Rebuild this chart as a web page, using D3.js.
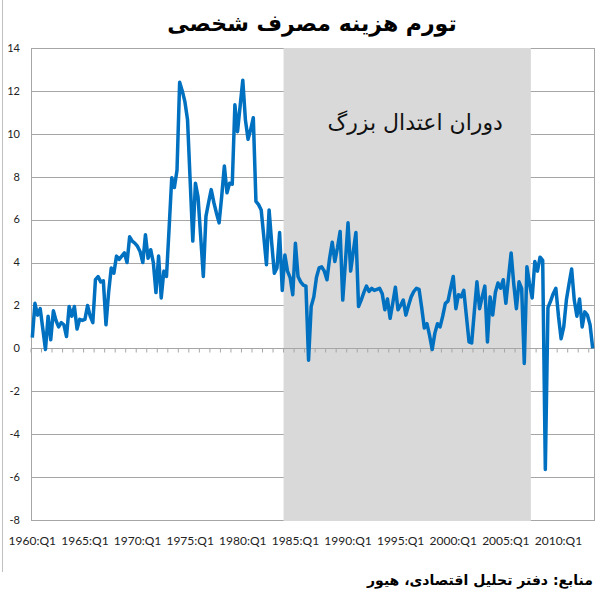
<!DOCTYPE html>
<html>
<head>
<meta charset="utf-8">
<script src="https://cdn.jsdelivr.net/npm/d3@7"></script>
<style>
  body { margin: 0; background: #fff; }
  svg { display: block; }
</style>
</head>
<body>
<svg id="chart" width="597" height="600"></svg>
<script>
// quarterly inflation, personal consumption expenditure (percent, annualised)
var startYear = 1960;
var values = [
  0.5, 2.1, 1.55, 1.85, 0.9, -0.05, 1.5, 0.4, 1.75, 1.3,
  1.0, 1.2, 1.1, 0.55, 1.95, 1.5, 1.95, 0.9, 1.35, 1.3,
  1.35, 2.0, 1.5, 1.2, 3.2, 3.35, 3.1, 3.15, 1.1, 2.6,
  3.75, 3.5, 4.3, 4.15, 4.3, 4.45, 4.0, 5.2, 5.0, 4.9,
  4.75, 4.5, 4.0, 5.3, 4.2, 4.6, 4.0, 2.6, 4.3, 2.35,
  3.6, 3.35, 5.6, 7.95, 7.5, 8.3, 12.4, 12.0, 11.5, 10.65,
  7.8, 5.0, 7.7, 7.05, 5.2, 3.35, 6.15, 6.8, 7.4, 6.8,
  6.3, 5.85, 7.1, 8.5, 7.25, 7.7, 7.65, 11.35, 10.1, 11.3,
  12.5, 10.65, 9.75, 10.2, 10.75, 6.85, 6.7, 6.45, 5.2, 3.9,
  6.45, 4.9, 3.5, 3.75, 5.4, 2.7, 4.35, 3.6, 3.3, 2.5,
  4.9, 3.35, 3.1, 2.95, 2.9, -0.55, 1.95, 2.4, 3.3, 3.75,
  3.8, 3.6, 3.2, 4.2, 4.95, 4.05, 4.7, 5.45, 2.25, 4.0,
  5.85, 3.6, 4.5, 5.4, 1.95, 2.25, 2.6, 2.9, 2.65, 2.8,
  2.7, 2.75, 2.8, 2.55, 1.8, 2.3, 1.4, 2.1, 2.85, 1.8,
  2.0, 2.25, 1.55, 2.0, 2.4, 2.65, 2.8, 2.75, 1.9, 0.95,
  1.15, 0.6, -0.05, 0.7, 1.15, 1.0, 1.5, 2.1, 2.2, 2.8,
  3.35, 1.85, 2.5, 2.4, 2.7, 1.5, 0.3, 0.25, 1.7, 3.1,
  1.85, 2.4, 2.9, 0.3, 2.4, 1.55, 2.6, 3.05, 2.8, 3.2,
  2.1, 3.3, 4.45, 3.0, 1.85, 3.1, 2.8, -0.7, 3.8, 3.0,
  2.35, 4.05, 3.6, 4.25, 4.1, -5.65, 1.9, 2.2, 2.55, 2.8,
  1.5, 0.45, 1.0, 2.25, 3.0, 3.7, 2.25, 1.5, 2.3, 1.0,
  1.7, 1.55, 1.1, 0.0
];
var quarters = values.map(function(d, i) {
  return (startYear + Math.floor(i / 4)) + ':Q' + (i % 4 + 1);
});
var tickLabels = ['1960:Q1', '1965:Q1', '1970:Q1', '1975:Q1', '1980:Q1',
                  '1985:Q1', '1990:Q1', '1995:Q1', '2000:Q1', '2005:Q1', '2010:Q1'];
var yTicks = [-8, -6, -4, -2, 0, 2, 4, 6, 8, 10, 12, 14];
// the "great moderation" band
var bandStart = '1984:Q1';
var bandEnd = '2007:Q2';

var titleText = 'تورم هزینه مصرف شخصی';
var bandText = 'دوران اعتدال بزرگ';
var sourceText = 'منابع: دفتر تحلیل اقتصادی، هیور';

var svg = d3.select('#chart');
var plot = {l: 31, r: 594, t: 48, b: 520};
var gridColor = '#a6a6a6';

var x = d3.scaleBand().domain(quarters).range([plot.l, plot.r]).padding(0);
var y = d3.scaleLinear().domain([-8, 14]).range([plot.b, plot.t]);
var cx = function(q) { return x(q) + x.bandwidth() / 2; };

// outer frame edge on the left
svg.append('line')
  .attr('x1', 2.5).attr('x2', 2.5).attr('y1', 0).attr('y2', 572)
  .attr('stroke', '#c0c0c0');

// horizontal gridlines
svg.append('g').selectAll('line')
  .data(yTicks.filter(function(d) { return d !== 0; }))
  .enter().append('line')
  .attr('x1', plot.l).attr('x2', plot.r)
  .attr('y1', function(d) { return Math.round(y(d)) + 0.5; })
  .attr('y2', function(d) { return Math.round(y(d)) + 0.5; })
  .attr('stroke', gridColor);

// grey band
var bx0 = x(bandStart);
var bx1 = x(bandEnd) + x.bandwidth();
svg.append('rect')
  .attr('x', bx0).attr('y', y(14))
  .attr('width', bx1 - bx0).attr('height', y(-8) - y(14) + 1)
  .attr('fill', '#d9d9d9');

svg.append('text')
  .attr('x', (bx0 + bx1) / 2 + 8).attr('y', 130)
  .attr('text-anchor', 'middle')
  .attr('font-family', 'DejaVu Sans')
  .attr('font-size', 22)
  .attr('fill', '#111')
  .text(bandText);

// y axis line and right border
svg.append('line')
  .attr('x1', plot.l + 0.5).attr('x2', plot.l + 0.5)
  .attr('y1', y(14)).attr('y2', y(-8) + 1)
  .attr('stroke', gridColor);
svg.append('line')
  .attr('x1', plot.r + 0.5).attr('x2', plot.r + 0.5)
  .attr('y1', y(14)).attr('y2', y(-8) + 1)
  .attr('stroke', gridColor);

// y tick labels
svg.append('g').selectAll('text')
  .data(yTicks)
  .enter().append('text')
  .attr('x', 20)
  .attr('y', function(d) { return y(d); })
  .attr('dy', '0.35em')
  .attr('text-anchor', 'end')
  .attr('font-family', 'Lato')
  .attr('font-size', 11)
  .attr('fill', '#222')
  .text(function(d) { return d; });

// category axis at zero, a tick every year
var zeroY = Math.round(y(0)) + 0.5;
var xAxis = d3.axisBottom(x)
  .tickValues(quarters.filter(function(d, i) { return i % 4 === 0; }))
  .tickSize(4)
  .tickFormat('');
var axisG = svg.append('g')
  .attr('transform', 'translate(0,' + zeroY + ')')
  .call(xAxis);
axisG.select('.domain')
  .attr('d', 'M' + plot.l + ',0H' + plot.r)
  .attr('stroke', gridColor);
axisG.selectAll('.tick line')
  .attr('transform', 'translate(' + (-x.bandwidth() / 2) + ',0)')
  .attr('stroke', gridColor);

// x labels under the plot
svg.append('g').selectAll('text')
  .data(tickLabels)
  .enter().append('text')
  .attr('x', function(d) { return cx(d); })
  .attr('y', 545)
  .attr('text-anchor', 'middle')
  .attr('font-family', 'Lato')
  .attr('font-size', 12)
  .attr('fill', '#222')
  .text(function(d) { return d; });

// the series
var line = d3.line()
  .x(function(d, i) { return cx(quarters[i]); })
  .y(function(d) { return y(d); });
svg.append('path')
  .datum(values)
  .attr('d', line)
  .attr('fill', 'none')
  .attr('stroke', '#0070c0')
  .attr('stroke-width', 3.5)
  .attr('stroke-linejoin', 'round');

// title and source
svg.append('text')
  .attr('x', 312).attr('y', 31)
  .attr('text-anchor', 'middle')
  .attr('font-family', 'DejaVu Sans')
  .attr('font-weight', 'bold')
  .attr('font-size', 22)
  .attr('fill', '#000')
  .text(titleText);

svg.append('text')
  .attr('x', 593).attr('y', 585)
  .attr('text-anchor', 'end')
  .attr('font-family', 'DejaVu Sans')
  .attr('font-weight', 'bold')
  .attr('font-size', 14)
  .attr('fill', '#000')
  .text(sourceText);
</script>
</body>
</html>
